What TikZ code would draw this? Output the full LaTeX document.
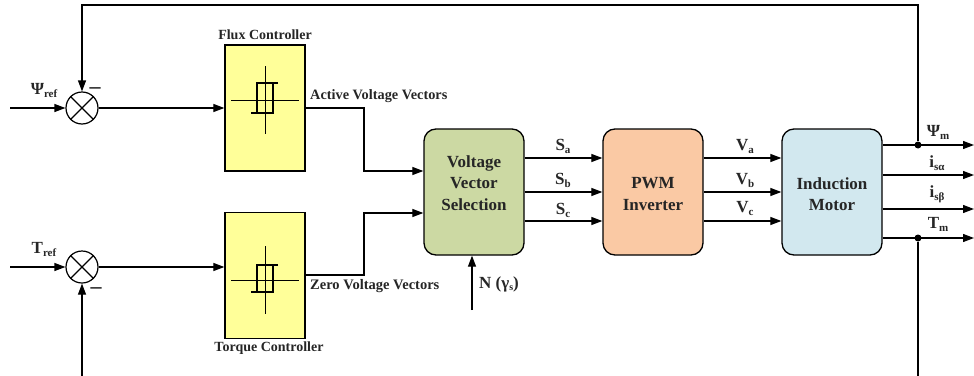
\documentclass[tikz,border=0pt]{standalone}
\usepackage{fontspec}
\setmainfont{Liberation Serif}
\usetikzlibrary{arrows.meta,calc}
\newcommand{\fs}[1]{\fontsize{#1}{#1}\selectfont}
\newcommand{\lab}[3][17]{{\fs{#1}#2\raisebox{-3pt}{\fs{11}#3}}}
\tikzset{
  wire/.style={line width=1.2pt,draw=black},
  arr/.style={wire,-{Triangle[length=11pt,width=8pt]}},
  blockbox/.style={draw=black,line width=1.3pt,rounded corners=12pt,minimum width=100pt,minimum height=126pt,inner sep=0pt},
  blocktext/.style={inner sep=0pt,align=center,font=\bfseries\fontsize{17}{21.5}\selectfont,text=black!85},
  ctrl/.style={draw=black,line width=1.3pt,fill=ctrlyellow,minimum width=80pt,minimum height=126pt,inner sep=0pt},
  sumnode/.style={circle,draw=black,line width=1.2pt,minimum size=32pt,inner sep=0pt},
  txt/.style={inner sep=0pt,font=\bfseries\fontsize{14}{14}\selectfont,text=black!85},
  sig/.style={inner sep=0pt,font=\bfseries\fontsize{15}{15}\selectfont,text=black!85},
  dot/.style={circle,fill=black,minimum size=7pt,inner sep=0pt},
  hyst/.style={line width=0.9pt,draw=black},
  hystb/.style={line width=1.2pt,draw=black}
}
\definecolor{ctrlyellow}{HTML}{FFFF99}
\definecolor{vvgreen}{HTML}{CCD9A3}
\definecolor{pwmorange}{HTML}{FAC9A4}
\definecolor{motorblue}{HTML}{D2E8EF}
% #1 centre, #2 upper offset, #3 lower offset
\newcommand{\hysteresis}[3]{%
  \draw[hyst] ($(#1)+(0,-34)$) -- ($(#1)+(0,34)$);
  \draw[hyst] ($(#1)+(-34,0)$) -- ($(#1)+(34,0)$);
  \draw[hystb] ($(#1)+(13,-#2)$) -- ($(#1)+(-8,-#2)$) -- ($(#1)+(-8,#3)$);
  \draw[hystb] ($(#1)+(-14,#3)$) -- ($(#1)+(8,#3)$) -- ($(#1)+(8,-#2)$);
}
\begin{document}
\begin{tikzpicture}[x=1pt,y=-1pt]
\useasboundingbox (0,0) rectangle (974,375);
\clip (0,0) rectangle (974,375);
% nodes
\node[sumnode] (s1) at (82,108) {};
\node[sumnode] (s2) at (82,267) {};
\node[ctrl] (flux) at (265,108) {};
\node[ctrl] (torque) at (265,275.5) {};
\node[blockbox,fill=vvgreen] (vvs) at (474,192) {};
\node[blockbox,fill=pwmorange] (pwm) at (653,192) {};
\node[blockbox,fill=motorblue] (motor) at (832,192) {};
\node[blocktext] (vvst) at (474,183) {Voltage\\Vector\\Selection};
\node[blocktext] (pwmt) at (653,194) {PWM\\Inverter};
\node[blocktext] (motort) at (832,194) {Induction\\Motor};
\node[dot] (j1) at (918,145) {};
\node[dot] (j2) at (918,238) {};
% free ends
\coordinate (in1) at (10,108);
\coordinate (in2) at (10,267);
\coordinate (top1) at (82,5);
\coordinate (top2) at (918,5);
\coordinate (bot1) at (82,395);
\coordinate (bot2) at (918,395);
\coordinate (nin) at (472,310);
\coordinate (r1) at (0,158);
\coordinate (r2) at (0,192);
\coordinate (r3) at (0,221);
\coordinate (o1) at (974,145);
\coordinate (o2) at (974,175);
\coordinate (o3) at (974,209);
\coordinate (o4) at (974,238);
\coordinate (to) at (0,275);
\coordinate (fi) at (0,171);
\coordinate (ti) at (0,213);
% sum crosses
\draw[wire] (s1.45) -- (s1.225) (s1.135) -- (s1.315);
\draw[wire] (s2.45) -- (s2.225) (s2.135) -- (s2.315);
% hysteresis symbols
\hysteresis{265,100}{17}{13}
\hysteresis{265,280}{15}{12}
% connectors
\draw[arr] (in1) -- (s1.west);
\draw[arr] (in2) -- (s2.west);
\draw[arr] (s1.east) -- (flux.west);
\draw[arr] (s2.east) -- (s2.east -| torque.west);
\draw[arr] (j1) -- (top2) -- (top1) -- (s1.north);
\draw[arr] (j2) -- (bot2);
\draw[arr] (bot1) -- (s2.south);
\draw[arr] (flux.east) -- (364,108) -- (364,171) -- (fi -| vvs.west);
\draw[arr] (to -| torque.east) -- (364,275) -- (364,213) -- (ti -| vvs.west);
\draw[arr] (nin) -- (nin |- vvs.south);
\foreach \r in {r1,r2,r3}{
  \draw[arr] (\r -| vvs.east) -- (\r -| pwm.west);
  \draw[arr] (\r -| pwm.east) -- (\r -| motor.west);
}
\draw[arr] (o1 -| motor.east) -- (o1);
\draw[arr] (o2 -| motor.east) -- (o2);
\draw[arr] (o3 -| motor.east) -- (o3);
\draw[arr] (o4 -| motor.east) -- (o4);
% labels
\node[txt] (lf) at (265,35) {Flux Controller};
\node[txt] (lt) at (269,348) {Torque Controller};
\node[txt,anchor=west] (la) at (310,96) {\fs{14.3}Active Voltage Vectors};
\node[txt,anchor=west] (lz) at (310,286) {\fs{14.5}Zero Voltage Vectors};
\node[sig] (lpsi) at (44,90) {\lab{Ψ}{ref}};
\node[sig] (ltr) at (44,249) {\lab{T}{ref}};
\node[sig] (m1) at (95,91) {\fs{22}–};
\node[sig] (m2) at (96,291) {\fs{22}–};
\node[sig] (ln) at (499,284) {\fs{17}N (γ\raisebox{-2pt}{\fs{10}s})};
\node[sig] (sa) at (563,146) {\lab{S}{a}};
\node[sig] (sb) at (563,180) {\lab{S}{b}};
\node[sig] (sc) at (563,210) {\lab{S}{c}};
\node[sig] (va) at (745,146) {\lab{V}{a}};
\node[sig] (vb) at (745,180) {\lab{V}{b}};
\node[sig] (vc) at (745,208) {\lab{V}{c}};
\node[sig] (pm) at (938,132) {\lab{Ψ}{m}};
\node[sig] (ia) at (937,163) {\lab{i}{sα}};
\node[sig] (ib) at (937,194) {\lab{i}{sβ}};
\node[sig] (tm) at (938,224) {\lab{T}{m}};
\end{tikzpicture}
\end{document}
